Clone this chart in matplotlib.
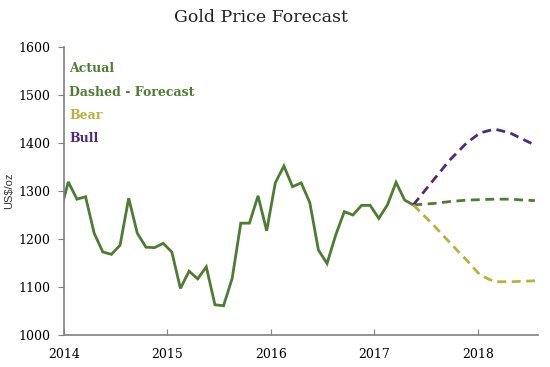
import matplotlib
matplotlib.use("Agg")
import matplotlib.pyplot as plt
import numpy as np

# ---- data ----
actual_years = np.arange(2013.9583, 2017.40, 1/12)  # mid-month, Dec 2013 .. May 2017
actual_values = [1251,
                 1319, 1283, 1288, 1212, 1173, 1168, 1187, 1285, 1212, 1183, 1182, 1191,
                 1173, 1097, 1133, 1117, 1142, 1063, 1061, 1118, 1233, 1233, 1290, 1217,
                 1317, 1352, 1309, 1317, 1276, 1177, 1149, 1208, 1257, 1250, 1270, 1270,
                 1243, 1271, 1318, 1281, 1271]

fc_years = [2017.375, 2017.57, 2017.73, 2017.89, 2018.02, 2018.16, 2018.31, 2018.45, 2018.55]
base_values = [1271, 1274, 1278, 1281, 1282, 1283, 1283, 1281, 1280]
bull_values = [1271, 1323, 1365, 1400, 1421, 1429, 1421, 1406, 1396]
bear_values = [1271, 1229, 1192, 1156, 1125, 1111, 1111, 1112, 1113]

year_ticks = [2014, 2015, 2016, 2017, 2018]
y_ticks = [1000, 1100, 1200, 1300, 1400, 1500, 1600]

green = "#4c7d32"
bear_c = "#b7b33a"
bull_c = "#4e2b78"

fig = plt.figure(figsize=(5.5, 3.67), dpi=100)
ax = fig.add_axes([64/550, 1-335/367, (538-64)/550, (335-47)/367])

ax.plot(actual_years[:len(actual_values)], actual_values, color=green, lw=2.0, solid_joinstyle="miter")
ax.plot(fc_years, base_values, color=green, lw=2.0, ls=(0, (3.2, 2)))
ax.plot(fc_years, bull_values, color=bull_c, lw=2.0, ls=(0, (3.2, 2)))
ax.plot(fc_years, bear_values, color=bear_c, lw=2.0, ls=(0, (3.2, 2)))

ax.set_xlim(2014.0, 2018.58)
ax.set_ylim(1000, 1600)
ax.set_xticks(year_ticks)
ax.set_xticklabels([str(y) for y in year_ticks], family="DejaVu Serif", fontsize=9)
ax.set_yticks(y_ticks)
ax.set_yticklabels([str(y) for y in y_ticks], family="DejaVu Serif", fontsize=9)
for s in ["top", "right"]:
    ax.spines[s].set_visible(False)
for s in ["left", "bottom"]:
    ax.spines[s].set_color("#808080")
    ax.spines[s].set_linewidth(1.2)
ax.tick_params(axis="y", direction="out", length=4, color="#808080", pad=6)
ax.tick_params(axis="x", direction="in", length=4, color="#808080", pad=9)

ax.set_ylabel("US$/oz", family="Liberation Sans", fontsize=8, color="#333333")
ax.yaxis.set_label_coords(-50/474, (335-191)/288)

fig.text(261/550, 1-17/367, "Gold Price Forecast", ha="center", va="center",
         family="DejaVu Serif", fontsize=12.5, color="#222222")

labels = [("Actual", green, 68), ("Dashed - Forecast", green, 92),
          ("Bear", bear_c, 115), ("Bull", bull_c, 138)]
for txt, c, ypix in labels:
    fig.text(69/550, 1-ypix/367, txt, ha="left", va="center", family="DejaVu Serif",
             fontweight="bold", fontsize=9, color=c)

fig.savefig("out.png", dpi=100)
